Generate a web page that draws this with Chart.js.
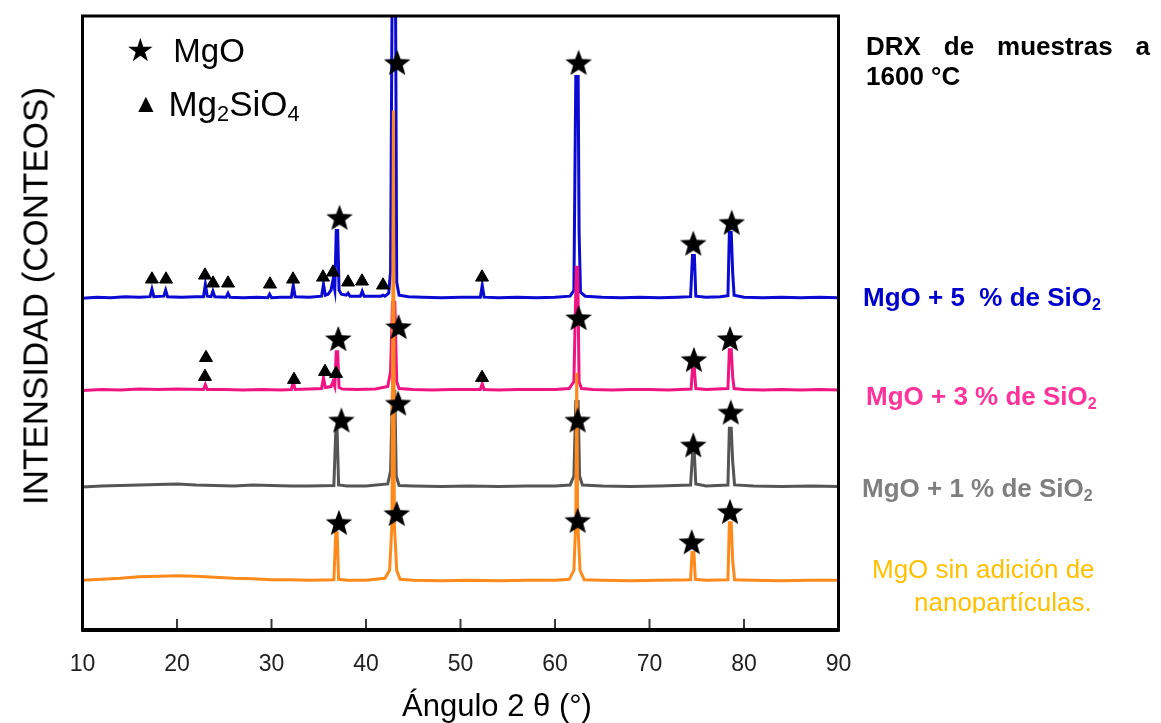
<!DOCTYPE html>
<html>
<head>
<meta charset="utf-8">
<script src="https://cdn.jsdelivr.net/npm/chart.js@4.4.1/dist/chart.umd.min.js"></script>
<style>
  body { margin: 0; background: #fff; }
  #wrap { position: relative; width: 1161px; height: 723px; overflow: hidden; font-family: "Liberation Sans", Arial, sans-serif; }
  canvas { position: absolute; left: 0; top: 0; }
  .txt { position: absolute; white-space: pre; line-height: 1; }
  .side { font-weight: bold; font-size: 26px; }
  sub { font-size: 62%; vertical-align: -0.25em; line-height: 0; }
</style>
</head>
<body>
<div id="wrap">
  <canvas id="graph" width="1161" height="723"></canvas>

  <div class="txt" style="left:126px;top:34px;font-size:33px;"><span style="font-size:32px;vertical-align:1px;">★</span>  MgO</div>
  <div class="txt" style="left:133px;top:86px;font-size:35px;"><span style="font-size:26px;vertical-align:4px;">▲</span> Mg<sub>2</sub>SiO<sub>4</sub></div>

  <div class="txt" style="left:17px;top:296px;font-size:35px;transform:translate(-50%,-50%) rotate(-90deg);transform-origin:center;margin-left:18px;">INTENSIDAD (CONTEOS)</div>
  <div class="txt" style="left:497px;top:690px;font-size:31px;transform:translateX(-50%);">Ángulo 2 θ (°)</div>

  <div class="txt side" style="left:866px;top:33px;width:284px;text-align:justify;text-align-last:justify;white-space:normal;">DRX de muestras a</div>
  <div class="txt side" style="left:866px;top:63px;">1600 °C</div>
  <div class="txt side" style="left:863px;top:284px;color:#0000cc;">MgO + 5  % de SiO<sub>2</sub></div>
  <div class="txt side" style="left:866px;top:383px;color:#ff3399;">MgO + 3 % de SiO<sub>2</sub></div>
  <div class="txt side" style="left:862px;top:475px;color:#7f7f7f;">MgO + 1 % de SiO<sub>2</sub></div>
  <div class="txt" style="left:872px;top:556px;font-size:26px;color:#ffc000;">MgO sin adición de</div>
  <div style="position:absolute;left:900px;top:585px;width:220px;height:28px;overflow:hidden;">
    <div class="txt" style="left:14px;top:4px;font-size:26px;color:#ffc000;">nanopartículas.</div>
  </div>
</div>

<script>
// 2θ (°), intensidad (conteos)
const mgo5 = [
  [10,3340],[11.5,3350],[13,3345],[14.5,3355],[16,3350],[17.15,3355],[17.35,3430],[17.55,3355],
  [18.6,3360],[18.8,3420],[19,3355],[20.5,3350],[22,3355],[22.8,3355],[23.0,3480],[23.2,3360],
  [23.6,3355],[23.8,3410],[24.0,3355],[25.2,3350],[25.4,3390],[25.6,3350],[27,3345],[28.5,3350],
  [29.6,3345],[29.8,3380],[30.0,3345],[31,3350],[32.1,3350],[32.3,3470],[32.5,3355],[34,3350],
  [35.3,3360],[35.5,3480],[35.7,3370],[36.0,3380],[36.3,3420],[36.5,3520],[36.7,3420],[36.85,4020],
  [37.0,4020],[37.15,3420],[37.4,3380],[37.9,3370],[38.1,3390],[38.3,3360],[39.4,3360],[39.6,3410],
  [39.8,3360],[41.0,3360],[41.6,3360],[41.8,3370],[42.0,3360],[42.4,3390],[42.6,3610],[42.8,7000],
  [43.1,7000],[43.25,3500],[43.5,3370],[44.5,3355],[46,3350],[48,3345],[50,3350],[52.1,3350],
  [52.3,3470],[52.5,3350],[54,3345],[56,3350],[58,3345],[60,3350],[61.6,3360],[62.0,3420],
  [62.2,5570],[62.45,5570],[62.55,4000],[62.7,3400],[63.2,3360],[65,3350],[67,3345],[69,3350],
  [71,3345],[73,3350],[74.35,3355],[74.55,3770],[74.75,3770],[74.9,3360],[76,3350],[77.5,3355],
  [78.3,3365],[78.45,4000],[78.65,4000],[78.8,3600],[78.95,3370],[80,3350],[82,3345],[84,3350],
  [86,3345],[88,3350],[90,3345]
];
const mgo3 = [
  [10,2410],[12,2420],[14,2415],[16,2425],[18,2420],[20,2425],[22.8,2420],[23.0,2470],[23.2,2420],
  [25,2420],[27,2415],[29,2420],[31,2415],[32.1,2420],[32.3,2500],[32.5,2420],[34,2425],[35.3,2430],
  [35.5,2540],[35.7,2440],[36.3,2450],[36.5,2500],[36.7,2450],[36.85,2800],[37.0,2800],[37.15,2440],
  [37.5,2425],[39,2420],[41,2425],[42.3,2450],[42.6,2600],[42.8,3300],[43.05,3300],[43.25,2500],
  [43.5,2430],[45,2420],[47,2415],[49,2420],[51,2420],[52.1,2420],[52.3,2480],[52.5,2420],[54,2415],
  [56,2420],[58,2420],[60,2420],[61.5,2430],[62.0,2500],[62.25,3650],[62.4,3650],[62.55,2500],
  [62.8,2430],[64,2420],[66,2415],[68,2420],[70,2420],[72,2415],[74.4,2425],[74.55,2630],[74.75,2630],
  [74.9,2430],[76,2420],[78.3,2430],[78.45,2820],[78.65,2820],[78.8,2550],[78.95,2430],[80,2420],
  [82,2415],[84,2420],[86,2415],[88,2420],[90,2415]
];
const mgo1 = [
  [10,1440],[12,1450],[14,1455],[16,1460],[18,1465],[20,1470],[22,1460],[24,1455],[26,1450],[28,1460],
  [30,1455],[32,1450],[34,1450],[36.6,1455],[36.8,2000],[36.95,2000],[37.1,1460],[38,1450],[40,1450],
  [42.3,1470],[42.6,1600],[42.8,2400],[43.05,2400],[43.2,1550],[43.5,1455],[45,1450],[48,1445],
  [51,1450],[54,1445],[57,1450],[60,1450],[61.6,1460],[62.0,1550],[62.2,2300],[62.45,2300],[62.6,1550],
  [62.9,1460],[65,1450],[68,1445],[71,1450],[74.35,1460],[74.55,1770],[74.75,1770],[74.9,1470],
  [76,1450],[78.3,1460],[78.45,2030],[78.65,2030],[78.8,1700],[79,1460],[81,1450],[84,1445],[87,1450],
  [90,1445]
];
const mgo0 = [
  [10,500],[12,510],[14,520],[16,535],[18,540],[20,545],[22,540],[24,530],[26,520],[28,515],[30,505],
  [32,505],[34,500],[36.6,505],[36.8,980],[36.95,980],[37.1,510],[38,500],[40,500],[42.0,520],
  [42.5,600],[42.75,1070],[42.9,5230],[43.0,1070],[43.25,600],[43.6,510],[45,500],[48,495],[51,500],
  [54,495],[57,500],[60,500],[61.5,510],[62.0,600],[62.2,1100],[62.3,2590],[62.4,1100],[62.65,600],
  [63.1,505],[65,500],[68,495],[71,500],[74.35,505],[74.5,780],[74.7,780],[74.85,510],[76,500],
  [78.3,505],[78.45,1080],[78.65,1080],[78.8,700],[79,505],[81,500],[84,495],[87,500],[90,500]
];

// marcas de fases: ★ MgO, ▲ Mg2SiO4
const starsMgO = [
  [37.2,4150],[43.3,5710],[62.5,5710],[74.63,3890],[78.7,4100],
  [37.07,2930],[43.45,3050],[62.5,3140],[74.7,2720],[78.52,2930],
  [37.4,2110],[43.4,2280],[62.4,2110],[74.63,1860],[78.6,2190],
  [37.14,1080],[43.25,1170],[62.4,1100],[74.47,885],[78.52,1190]
];
const triMg2SiO4 = [
  [17.35,3530],[18.84,3530],[22.96,3570],[23.81,3490],[25.4,3490],[29.84,3480],[32.28,3530],
  [35.45,3550],[36.51,3600],[38.1,3500],[39.58,3510],[41.8,3470],[52.28,3550],
  [23.07,2740],[22.96,2550],[32.38,2520],[35.66,2600],[36.83,2580],[52.28,2540]
];
const xTicks = [10, 20, 30, 40, 50, 60, 70, 80, 90];

const toXY = arr => arr.map(p => ({ x: p[0], y: p[1] }));

// estrella rellena para los marcadores
function makeStar(size) {
  const c = document.createElement('canvas');
  c.width = size; c.height = size;
  const g = c.getContext('2d');
  const cx = size / 2, cy = size / 2 + 1, R = size / 2 - 1, r = R * 0.42;
  g.beginPath();
  for (let i = 0; i < 10; i++) {
    const rad = i % 2 ? r : R;
    const a = -Math.PI / 2 + i * Math.PI / 5;
    g.lineTo(cx + rad * Math.cos(a), cy + rad * Math.sin(a));
  }
  g.closePath();
  g.fillStyle = '#000';
  g.fill();
  return c;
}
const starImg = makeStar(30);

const framePlugin = {
  id: 'frame',
  afterDraw(chart) {
    const { ctx, chartArea: a, scales } = chart;
    ctx.save();
    ctx.strokeStyle = '#3a3a3a';
    ctx.lineWidth = 2;
    xTicks.slice(1, -1).forEach(v => {
      const px = scales.x.getPixelForValue(v);
      ctx.beginPath();
      ctx.moveTo(px, a.bottom);
      ctx.lineTo(px, a.bottom - 11);
      ctx.stroke();
    });
    ctx.strokeStyle = '#000';
    ctx.lineWidth = 3;
    ctx.strokeRect(a.left, a.top, a.right - a.left, a.bottom - a.top);
    ctx.lineWidth = 4;
    ctx.beginPath();
    ctx.moveTo(a.left - 1, a.bottom);
    ctx.lineTo(a.right + 1, a.bottom);
    ctx.stroke();
    ctx.restore();
  }
};

const line = (data, color, order) => ({
  type: 'line', data: toXY(data), borderColor: color, borderWidth: 3,
  pointRadius: 0, tension: 0, fill: false, order
});

new Chart(document.getElementById('graph').getContext('2d'), {
  type: 'scatter',
  data: {
    datasets: [
      { data: toXY(starsMgO), pointStyle: starImg, pointRadius: 15, order: 0 },
      { data: toXY(triMg2SiO4), pointStyle: 'triangle', pointRadius: 7.5,
        backgroundColor: '#000', borderColor: '#000', borderWidth: 1, order: 0 },
      line(mgo0, '#ff8a1c', 1),
      line(mgo3, '#f01482', 2),
      line(mgo1, '#555555', 3),
      line(mgo5, '#0a0ad2', 4)
    ]
  },
  options: {
    responsive: false,
    animation: false,
    layout: { padding: { left: 82.5, right: 322.5, top: 12, bottom: 0 } },
    plugins: { legend: { display: false }, tooltip: { enabled: false } },
    scales: {
      x: {
        type: 'linear', min: 10, max: 90,
        afterBuildTicks: s => { s.ticks = xTicks.map(v => ({ value: v })); },
        afterFit: s => { s.height = 93; },
        ticks: { color: '#222', padding: 21, font: { family: 'Liberation Sans', size: 23 } },
        grid: { display: false, drawTicks: false },
        border: { display: false }
      },
      y: { display: false, min: 0, max: 6180 }
    }
  },
  plugins: [framePlugin]
});
</script>
</body>
</html>
